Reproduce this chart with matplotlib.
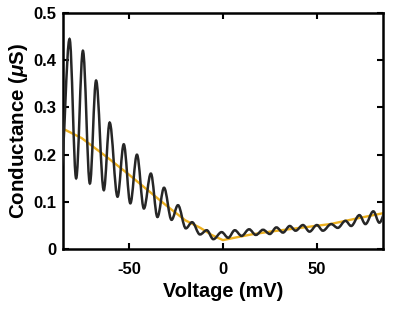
import matplotlib
matplotlib.use('Agg')
import numpy as np
from matplotlib import pyplot as plt
from matplotlib.path import Path
from matplotlib.patches import PathPatch

osc_voltage = [-86.0, -81.5, -78.0, -74.4, -70.7, -67.4, -63.3, -60.2, -56.0, -52.7,
               -49.2, -45.7, -42.0, -38.3, -34.8, -31.3, -27.3, -23.9, -19.7, -16.4,
               -12.2, -8.6, -5.1, -0.7, 2.8, 6.3, 9.9, 13.9, 17.5, 21.3,
               24.9, 28.4, 31.9, 35.5, 38.6, 42.5, 46.0, 49.9, 53.1, 57.5,
               61.0, 65.1, 68.1, 72.5, 75.7, 79.9, 83.1, 87.0]
osc_conductance = [0.17, 0.445, 0.150, 0.420, 0.139, 0.357, 0.125, 0.268, 0.111, 0.222,
                   0.097, 0.200, 0.086, 0.160, 0.068, 0.130, 0.062, 0.093, 0.044, 0.057,
                   0.031, 0.040, 0.021, 0.036, 0.024, 0.040, 0.028, 0.042, 0.030, 0.041,
                   0.032, 0.046, 0.035, 0.049, 0.039, 0.051, 0.037, 0.051, 0.039, 0.053,
                   0.045, 0.060, 0.049, 0.072, 0.053, 0.080, 0.056, 0.085]

# smooth background (fit) curve
fit_voltage = [-85, -75, -62, -50, -40, -30, -20, -12, -6, 0, 6, 15, 25, 35, 45, 57, 70, 85]
fit_conductance = [0.255, 0.235, 0.196, 0.158, 0.125, 0.092, 0.061, 0.045, 0.030, 0.019,
                   0.024, 0.031, 0.037, 0.042, 0.047, 0.053, 0.064, 0.076]

x_ticks = [-50, 0, 50]
y_ticks = [0, 0.1, 0.2, 0.3, 0.4, 0.5]

plt.rcParams['font.family'] = ['Liberation Sans', 'DejaVu Sans']
plt.rcParams['font.weight'] = 'bold'
plt.rcParams['mathtext.fontset'] = 'custom'
plt.rcParams['mathtext.rm'] = 'Liberation Sans:bold'
plt.rcParams['mathtext.it'] = 'Liberation Sans:italic:bold'

fig = plt.figure(figsize=(3.96, 3.11), dpi=100)
ax = fig.add_axes([0.159, 0.199, 0.808, 0.759])

# orange fit curve
ax.plot(fit_voltage, fit_conductance, color='#EDB120', lw=1.7, zorder=2)

# oscillating curve: smooth bezier segments between the read extrema
k = 0.36
verts = [(osc_voltage[0], osc_conductance[0])]
codes = [Path.MOVETO]
for i in range(1, len(osc_voltage)):
    x0, y0 = osc_voltage[i - 1], osc_conductance[i - 1]
    x1, y1 = osc_voltage[i], osc_conductance[i]
    dx = x1 - x0
    verts += [(x0 + k * dx, y0), (x1 - k * dx, y1), (x1, y1)]
    codes += [Path.CURVE4] * 3
patch = PathPatch(Path(verts, codes), facecolor='none', edgecolor='#262626', lw=1.8, zorder=3)
ax.add_patch(patch)

ax.set_xlim(-85, 85)
ax.set_ylim(0, 0.5)
ax.set_xticks(x_ticks)
ax.set_yticks(y_ticks)
ax.set_xticklabels([str(t) for t in x_ticks])
ax.set_yticklabels(['0', '0.1', '0.2', '0.3', '0.4', '0.5'])
ax.tick_params(direction='in', length=4, width=1.5, top=True, right=True, labelsize=12)
ax.tick_params(axis='x', pad=9)
ax.tick_params(axis='y', pad=5)
for s in ax.spines.values():
    s.set_linewidth(1.8)

ax.set_xlabel('Voltage (mV)', fontsize=14.3, fontweight='bold', labelpad=4)
ax.set_ylabel(r'Conductance ($\mu$S)', fontsize=14.8, fontweight='bold', labelpad=2)

fig.savefig('out.png', dpi=100)
